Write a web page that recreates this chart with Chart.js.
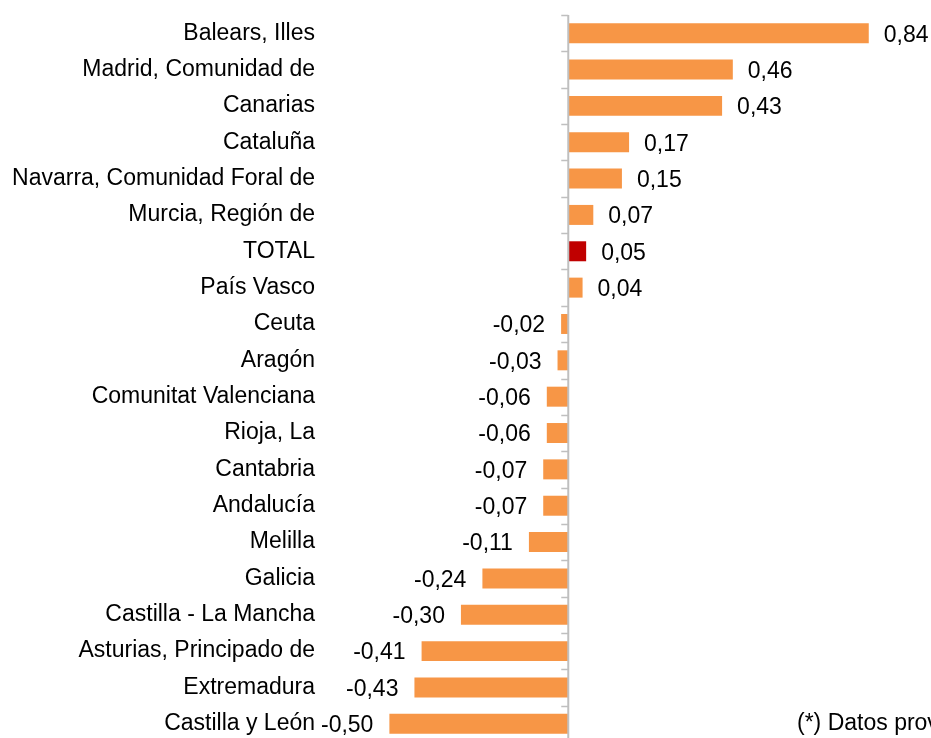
<!DOCTYPE html>
<html>
<head>
<meta charset="utf-8">
<script src="https://cdn.jsdelivr.net/npm/chart.js@4.4.0/dist/chart.umd.min.js"></script>
<style>
  html, body { margin: 0; padding: 0; background: #fff; overflow: hidden; width: 931px; height: 738px; }
  #wrap { position: relative; width: 931px; height: 738px; overflow: hidden; }
  #note { position: absolute; left: 797px; top: 709px; font: 23px "Liberation Sans", Arial, sans-serif; color: #000; white-space: nowrap; }
</style>
</head>
<body>
<div id="wrap">
  <canvas id="chart" width="931" height="747"></canvas>
  <div id="note">(*) Datos provisionales</div>
</div>
<script>
const regions = [
  "Balears, Illes", "Madrid, Comunidad de", "Canarias", "Cataluña",
  "Navarra, Comunidad Foral de", "Murcia, Región de", "TOTAL", "País Vasco",
  "Ceuta", "Aragón", "Comunitat Valenciana", "Rioja, La", "Cantabria",
  "Andalucía", "Melilla", "Galicia", "Castilla - La Mancha",
  "Asturias, Principado de", "Extremadura", "Castilla y León"
];
const values = [
  0.84, 0.46, 0.43, 0.17, 0.15, 0.07, 0.05, 0.04,
  -0.02, -0.03, -0.06, -0.06, -0.07, -0.07, -0.11, -0.24,
  -0.30, -0.41, -0.43, -0.50
];

const ORANGE = "#F79646";
const DARK_RED = "#C00000";
const FONT = '"Liberation Sans", Arial, sans-serif';

// zero axis with small ticks at category boundaries
const axisLine = {
  id: "axisLine",
  afterDatasetsDraw(chart) {
    const { ctx, chartArea } = chart;
    const x0 = chart.scales.x.getPixelForValue(0);
    const n = regions.length;
    const step = (chartArea.bottom - chartArea.top) / n;
    ctx.save();
    ctx.strokeStyle = "#bfbfbf";
    ctx.lineWidth = 2;
    ctx.beginPath();
    ctx.moveTo(x0, chartArea.top);
    ctx.lineTo(x0, chartArea.bottom);
    ctx.stroke();
    ctx.lineWidth = 1.5;
    for (let i = 0; i <= n; i++) {
      const y = Math.round(chartArea.top + i * step) + 0.5;
      ctx.beginPath();
      ctx.moveTo(x0 - 7, y);
      ctx.lineTo(x0, y);
      ctx.stroke();
    }
    ctx.restore();
  }
};

// value labels beside each bar end
const barLabels = {
  id: "barLabels",
  afterDatasetsDraw(chart) {
    const { ctx } = chart;
    const meta = chart.getDatasetMeta(0);
    ctx.save();
    ctx.font = "23px " + FONT;
    ctx.fillStyle = "#000";
    ctx.textBaseline = "middle";
    meta.data.forEach((bar, i) => {
      const v = values[i];
      const txt = v.toFixed(2).replace(".", ",");
      if (v >= 0) {
        ctx.textAlign = "left";
        ctx.fillText(txt, bar.x + 15, bar.y + 2);
      } else {
        ctx.textAlign = "right";
        ctx.fillText(txt, bar.x - 16, bar.y + 2);
      }
    });
    ctx.restore();
  }
};

new Chart(document.getElementById("chart"), {
  type: "bar",
  data: {
    labels: regions,
    datasets: [{
      data: values,
      backgroundColor: regions.map(r => r === "TOTAL" ? DARK_RED : ORANGE),
      borderWidth: 0,
      barPercentage: 0.55,
      categoryPercentage: 1
    }]
  },
  options: {
    indexAxis: "y",
    responsive: false,
    animation: false,
    layout: { padding: { top: 15, bottom: 5, left: 0, right: 5 } },
    plugins: { legend: { display: false }, tooltip: { enabled: false } },
    scales: {
      x: {
        display: false,
        min: -0.68,
        max: 1.0
      },
      y: {
        afterFit(scale) {
          scale.width = 325;
          scale.paddingTop = 0;
          scale.paddingBottom = 0;
        },
        grid: { display: false, drawTicks: false, tickLength: 0 },
        border: { display: false },
        ticks: {
          autoSkip: false,
          padding: 10,
          color: "#000",
          font: { family: FONT, size: 23 }
        }
      }
    }
  },
  plugins: [axisLine, barLabels]
});
</script>
</body>
</html>
